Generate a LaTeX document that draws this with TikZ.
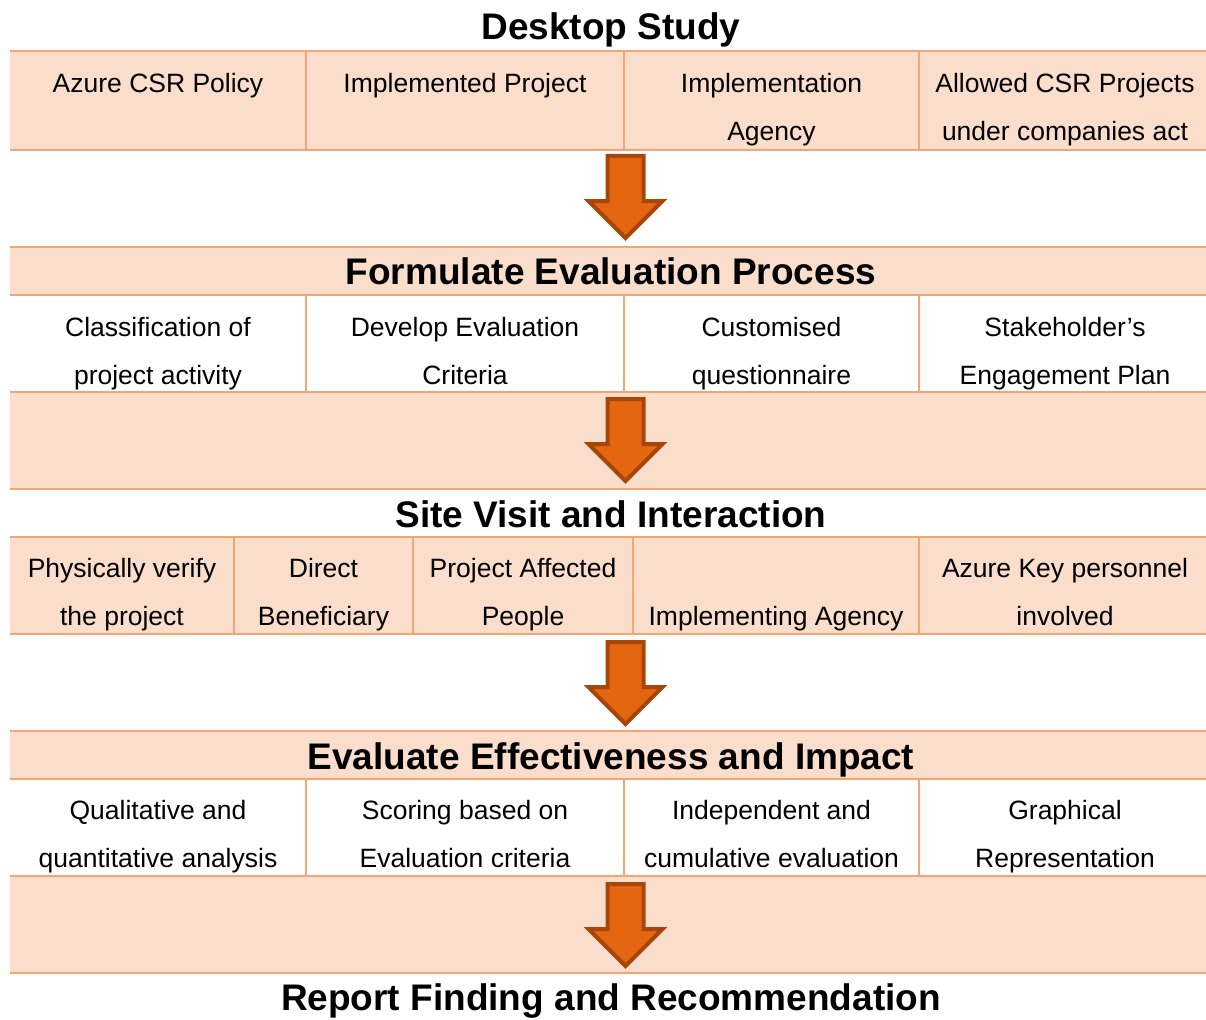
\documentclass[tikz,border=0pt]{standalone}
\usepackage{fontspec}
\setmainfont{Liberation Sans}
\definecolor{rowfill}{HTML}{FADECB}
\definecolor{rule}{HTML}{F4A672}
\definecolor{arrowfill}{HTML}{E46610}
\definecolor{arrowedge}{HTML}{A8460A}
\newcommand{\twol}[2]{\begin{tabular}[t]{@{}c@{}}#1\\#2\end{tabular}}
\begin{document}
\begin{tikzpicture}[x=1pt,y=-1pt,
  celltext/.style={anchor=base,inner sep=0pt,font=\fontsize{26.5}{48}\selectfont},
  titletext/.style={anchor=base,inner sep=0pt,font=\fontsize{37}{40}\selectfont\bfseries},
  hrule/.style={draw=rule,line width=1.2pt},
  vrule/.style={draw=rule,line width=1.2pt},
  shade/.style={fill=rowfill},
  downarrow/.style={fill=arrowfill,draw=arrowedge,line width=4pt,line join=miter}
]
\useasboundingbox (0,0) rectangle (1206,1019);
% shaded rows
\fill[shade] (10,52) rectangle (1206,150);
\fill[shade] (10,247) rectangle (1206,295);
\fill[shade] (10,392) rectangle (1206,489);
\fill[shade] (10,537) rectangle (1206,634);
\fill[shade] (10,731) rectangle (1206,779);
\fill[shade] (10,876) rectangle (1206,973);
% horizontal rules
\draw[draw=rule,line width=2.8pt] (10,51) -- (1206,51);
\foreach \yy in {150,247,295,392,489,537,634,731,779,876,973}
  \draw[hrule] (10,\yy) -- (1206,\yy);
% vertical rules
\foreach \xx in {306,624,919} {
  \draw[vrule] (\xx,52) -- (\xx,150);
  \draw[vrule] (\xx,295) -- (\xx,392);
  \draw[vrule] (\xx,779) -- (\xx,876);
}
\foreach \xx in {234,413,633,919}
  \draw[vrule] (\xx,537) -- (\xx,634);
% titles
\node[titletext] (t1) at (611,39.5) {Desktop Study};
\node[titletext] (t2) at (611,284.5) {Formulate Evaluation Process};
\node[titletext] (t3) at (611,527.5) {Site Visit and Interaction};
\node[titletext] (t4) at (611,769.5) {Evaluate Effectiveness and Impact};
\node[titletext] (t5) at (611,1010.5) {Report Finding and Recommendation};
% row 1 cells
\node[celltext] (a1) at (158,93) {Azure CSR Policy};
\node[celltext] (a2) at (465,93) {Implemented Project};
\node[celltext] (a3) at (771.5,93) {\twol{Implementation}{Agency}};
\node[celltext] (a4) at (1065,93) {\twol{Allowed CSR Projects}{under companies act}};
% row 2 cells
\node[celltext] (b1) at (158,336) {\twol{Classification of}{project activity}};
\node[celltext] (b2) at (465,336) {\twol{Develop Evaluation}{Criteria}};
\node[celltext] (b3) at (771.5,336) {\twol{Customised}{questionnaire}};
\node[celltext] (b4) at (1065,336) {\twol{Stakeholder’s}{Engagement Plan}};
% row 3 cells
\node[celltext] (c1) at (122,577.5) {\twol{Physically verify}{the project}};
\node[celltext] (c2) at (323.5,577.5) {\twol{Direct}{Beneficiary}};
\node[celltext] (c3) at (523,577.5) {\twol{Project Affected}{People}};
\node[celltext] (c4) at (776,625.5) {Implementing Agency};
\node[celltext] (c5) at (1065,577.5) {\twol{Azure Key personnel}{involved}};
% row 4 cells
\node[celltext] (d1) at (158,819.5) {\twol{Qualitative and}{quantitative analysis}};
\node[celltext] (d2) at (465,819.5) {\twol{Scoring based on}{Evaluation criteria}};
\node[celltext] (d3) at (771.5,819.5) {\twol{Independent and}{cumulative evaluation}};
\node[celltext] (d4) at (1065,819.5) {\twol{Graphical}{Representation}};
% arrows
\foreach \top/\nm in {156/ar1,399/ar2,642/ar3,884/ar4} {
  \coordinate (\nm) at (625.5,\top);
  \draw[downarrow] (\nm) ++(-18,0) -- ++(36,0) -- ++(0,45) -- ++(19,0)
     -- ++(-37,37) -- ++(-37,-37) -- ++(19,0) -- cycle;
}
\end{tikzpicture}
\end{document}
